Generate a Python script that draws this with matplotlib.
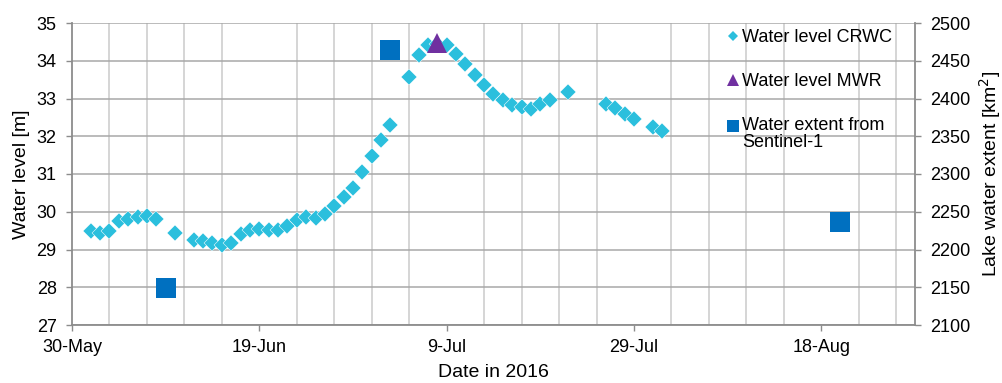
import matplotlib
matplotlib.use("Agg")
import matplotlib.pyplot as plt
import matplotlib.dates as mdates
from matplotlib.lines import Line2D
from matplotlib.legend_handler import HandlerLine2D
import pandas as pd

plt.rcParams['font.family'] = ['Liberation Sans', 'DejaVu Sans']

# Water level from CRWC altimetry [m]
crwc_dates = [
    "2016-06-01", "2016-06-02", "2016-06-03", "2016-06-04", "2016-06-05", "2016-06-06",
    "2016-06-07", "2016-06-08", "2016-06-10", "2016-06-12", "2016-06-13", "2016-06-14",
    "2016-06-15", "2016-06-16", "2016-06-17", "2016-06-18", "2016-06-19", "2016-06-20",
    "2016-06-21", "2016-06-22", "2016-06-23", "2016-06-24", "2016-06-25", "2016-06-26",
    "2016-06-27", "2016-06-28", "2016-06-29", "2016-06-30", "2016-07-01", "2016-07-02",
    "2016-07-03", "2016-07-05", "2016-07-06", "2016-07-07", "2016-07-08", "2016-07-09",
    "2016-07-10", "2016-07-11", "2016-07-12", "2016-07-13", "2016-07-14", "2016-07-15",
    "2016-07-16", "2016-07-17", "2016-07-18", "2016-07-19", "2016-07-20", "2016-07-22",
    "2016-07-26", "2016-07-27", "2016-07-28", "2016-07-29", "2016-07-31", "2016-08-01",
]
crwc_level = [
    29.48, 29.45, 29.49, 29.76, 29.80, 29.87,
    29.88, 29.80, 29.45, 29.25, 29.23, 29.17,
    29.12, 29.17, 29.40, 29.52, 29.55, 29.52,
    29.52, 29.63, 29.79, 29.87, 29.84, 29.95,
    30.16, 30.40, 30.62, 31.05, 31.49, 31.89,
    32.29, 33.56, 34.15, 34.41, 34.45, 34.41,
    34.18, 33.91, 33.62, 33.35, 33.11, 32.97,
    32.84, 32.78, 32.73, 32.85, 32.97, 33.16,
    32.86, 32.76, 32.60, 32.47, 32.24, 32.13,
]

# Water level from MWR [m]
mwr_dates = ["2016-07-08"]
mwr_level = [34.46]

# Lake water extent from Sentinel-1 [km²]
s1_dates = ["2016-06-09", "2016-07-03", "2016-08-20"]
s1_extent = [2149, 2464, 2237]

x_start = pd.Timestamp("2016-05-30")
x_end = pd.Timestamp("2016-08-28")
left_ticks = [27, 28, 29, 30, 31, 32, 33, 34, 35]
right_ticks = [2100, 2150, 2200, 2250, 2300, 2350, 2400, 2450, 2500]

C_CRWC = "#2BBFDD"
C_MWR = "#7030A0"
C_S1 = "#0070C0"
SPINE = "#8C8C8C"


class RaisedMarkerHandler(HandlerLine2D):
    """Legend handler that lifts the marker to the first line of a two-line label."""

    def __init__(self, lift, **kw):
        super().__init__(**kw)
        self.lift = lift

    def create_artists(self, legend, orig_handle, xdescent, ydescent, width,
                       height, fontsize, trans):
        return super().create_artists(legend, orig_handle, xdescent,
                                      ydescent - 2 * self.lift, width, height,
                                      fontsize, trans)


fig = plt.figure(figsize=(10.03, 3.83), dpi=100)
ax = fig.add_axes([72 / 1003, 1 - 325 / 383, (915 - 72) / 1003, (325 - 23) / 383])
ax2 = ax.twinx()

ax.plot(pd.to_datetime(crwc_dates), crwc_level, linestyle="none", marker="D",
        ms=8.2, color=C_CRWC, mec="white", mew=0.35, zorder=3)
ax.plot(pd.to_datetime(mwr_dates), mwr_level, linestyle="none", marker="^",
        ms=14.8, color=C_MWR, mew=0, zorder=4)
ax2.plot(pd.to_datetime(s1_dates), s1_extent, linestyle="none", marker="s",
         ms=14, color=C_S1, mew=0, zorder=3)

ax.set_xlim(x_start, x_end)
ax.set_ylim(27, 35)
ax2.set_ylim(2100, 2500)
ax.set_yticks(left_ticks)
ax2.set_yticks(right_ticks)

major = [x_start + pd.Timedelta(days=d) for d in range(0, 91, 20)]
minor = [x_start + pd.Timedelta(days=d) for d in range(0, 91, 4)]
ax.set_xticks(major)
ax.set_xticks(minor, minor=True)
ax.xaxis.set_major_formatter(
    matplotlib.ticker.FuncFormatter(lambda v, p: f"{mdates.num2date(v).day}-{mdates.num2date(v):%b}"))

# gridlines: horizontal at each level, vertical every four days
ax.grid(axis="y", which="major", color="#A8A8A8", lw=1.1)
ax.grid(axis="x", which="minor", color="#CACACA", lw=1.1)
ax.set_axisbelow(True)

for a in (ax, ax2):
    for s in a.spines.values():
        s.set_color(SPINE)
        s.set_linewidth(1.3)
    a.spines["top"].set_visible(False)
ax.spines["right"].set_visible(False)
ax2.spines["left"].set_visible(False)
ax2.spines["bottom"].set_visible(False)

ax.tick_params(axis="x", which="major", length=4, width=1, color=SPINE,
               labelsize=13, pad=6)
ax.tick_params(axis="x", which="minor", length=0)
ax.tick_params(axis="y", length=4, width=1, color=SPINE, labelsize=13, pad=7)
ax2.tick_params(axis="y", length=4, width=1, color=SPINE, labelsize=13, pad=7)

ax.set_xlabel("Date in 2016", fontsize=14, labelpad=6)
ax.set_ylabel("Water level [m]", fontsize=14, labelpad=5)
ax2.set_ylabel("Lake water extent [km$^2$]", fontsize=14, labelpad=5)

h_crwc = Line2D([], [], linestyle="none", marker="D", ms=5.5, color=C_CRWC, mew=0)
h_mwr = Line2D([], [], linestyle="none", marker="^", ms=8.5, color=C_MWR, mew=0)
h_s1 = Line2D([], [], linestyle="none", marker="s", ms=8, color=C_S1, mew=0)
labels = ["Water level CRWC", "Water level MWR", "Water extent from\nSentinel-1"]
leg = ax2.legend([h_crwc, h_mwr, h_s1], labels, loc="upper left",
                 bbox_to_anchor=(727 / 1003, 1 - 29 / 383), bbox_transform=fig.transFigure,
                 frameon=False, fontsize=13, handlelength=0.7, handletextpad=0.15,
                 labelspacing=1.5, borderpad=0, borderaxespad=0,
                 handler_map={h_s1: RaisedMarkerHandler(lift=6.3)})
for t in leg.get_texts():
    t.set_linespacing(1.0)

fig.savefig("out.png", dpi=100)
